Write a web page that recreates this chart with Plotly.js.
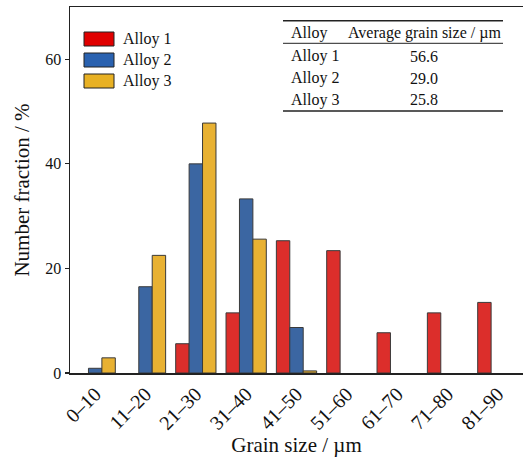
<!DOCTYPE html>
<html>
<head>
<meta charset="utf-8">
<script src="https://cdn.plot.ly/plotly-3.0.1.min.js"></script>
<style>html,body{margin:0;padding:0;background:#fff;}#chart{width:523px;height:457px;}</style>
</head>
<body>
<div id="chart"></div>
<script>
const categories = ["0–10","11–20","21–30","31–40","41–50","51–60","61–70","71–80","81–90"];
const seriesNames = ["Alloy 1","Alloy 2","Alloy 3"];
const alloy1 = [0, 0, 5.6, 11.5, 25.3, 23.4, 7.7, 11.5, 13.5];
const alloy2 = [0.9, 16.5, 40.0, 33.3, 8.7, 0, 0, 0, 0];
const alloy3 = [2.9, 22.5, 47.8, 25.6, 0.4, 0, 0, 0, 0];
const colors = ["#dc2e2b", "#3b66a2", "#e8b132"];
const legendColors = ["#e00000", "#2a62b0", "#e8b124"];
const tableHeader = ["Alloy", "Average grain size / µm"];
const tableAlloys = ["Alloy 1", "Alloy 2", "Alloy 3"];
const tableSizes = ["56.6", "29.0", "25.8"];

const W = 523, H = 457, L = 70, R = 0, T = 7, B = 84;
const pw = W - L - R, ph = H - T - B;
const px = x => (x - L) / pw;
const py = y => (H - B - y) / ph;

const font = "Liberation Serif, Times New Roman, serif";
const vals = [alloy1, alloy2, alloy3];
const traces = vals.map((v, i) => ({
  type: "bar", x: categories, y: v, name: seriesNames[i],
  marker: {color: colors[i], line: {color: "#3a3a3a", width: v.map(d => d > 0 ? 1 : 0)}},
  showlegend: false
}));

const shapes = [];
const annotations = [];
// custom legend
seriesNames.forEach((n, i) => {
  const yc = 39 + i * 21;
  shapes.push({type: "rect", xref: "paper", yref: "paper",
    x0: px(84), x1: px(114), y0: py(yc - 7), y1: py(yc + 7),
    fillcolor: legendColors[i], line: {color: "#222", width: 1}});
  annotations.push({xref: "paper", yref: "paper", x: px(121), y: py(yc),
    xanchor: "left", yanchor: "middle", text: n, showarrow: false,
    font: {family: font, size: 16, color: "#111"}});
});
// table
const tx0 = 283, tx1 = 503;
[20.7, 43.3, 111].forEach((yy, i) => {
  shapes.push({type: "line", xref: "paper", yref: "paper",
    x0: px(tx0), x1: px(tx1), y0: py(yy), y1: py(yy),
    line: {color: "#222", width: i === 1 ? 1 : 1.5}});
});
annotations.push({xref: "paper", yref: "paper", x: px(289), y: py(33),
  xanchor: "left", yanchor: "middle", text: tableHeader[0], showarrow: false,
  font: {family: font, size: 16, color: "#111"}});
annotations.push({xref: "paper", yref: "paper", x: px(424), y: py(33),
  xanchor: "center", yanchor: "middle", text: tableHeader[1], showarrow: false,
  font: {family: font, size: 16, color: "#111"}});
tableAlloys.forEach((a, i) => {
  const yy = 56 + i * 22;
  annotations.push({xref: "paper", yref: "paper", x: px(289), y: py(yy),
    xanchor: "left", yanchor: "middle", text: a, showarrow: false,
    font: {family: font, size: 16, color: "#111"}});
  annotations.push({xref: "paper", yref: "paper", x: px(424), y: py(yy),
    xanchor: "center", yanchor: "middle", text: tableSizes[i], showarrow: false,
    font: {family: font, size: 16, color: "#111"}});
});

const layout = {
  width: W, height: H,
  margin: {l: L, r: R, t: T, b: B, pad: 0},
  paper_bgcolor: "#fff", plot_bgcolor: "#fff",
  barmode: "group", bargap: 0.2, bargroupgap: 0,
  font: {family: font, color: "#111"},
  xaxis: {
    type: "category", range: [-0.5, 8.5],
    showline: true, linecolor: "#222", linewidth: 1.5, mirror: true,
    ticks: "", tickangle: -45, tickfont: {family: font, size: 20, color: "#111"},
    showgrid: false, zeroline: false,
    title: {text: "Grain size / µm", font: {family: font, size: 21, color: "#111"}, standoff: 2}
  },
  yaxis: {
    range: [0, 70], tickvals: [0, 20, 40, 60],
    showline: true, linecolor: "#222", linewidth: 1.5,
    ticks: "outside", ticklen: 4, tickwidth: 1.2, tickcolor: "#222",
    tickfont: {family: font, size: 16, color: "#111"},
    showgrid: false, zeroline: false,
    title: {text: "Number fraction / %", font: {family: font, size: 21, color: "#111"}, standoff: 10}
  },
  shapes: shapes, annotations: annotations
};
Plotly.newPlot("chart", traces, layout, {displayModeBar: false, staticPlot: true});
</script>
</body>
</html>
